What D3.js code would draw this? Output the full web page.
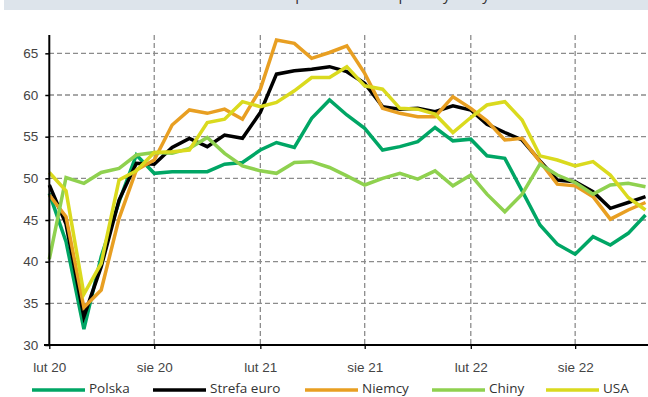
<!DOCTYPE html>
<html><head><meta charset="utf-8">
<script src="https://cdn.jsdelivr.net/npm/d3@7"></script>
<style>
body{margin:0;background:#fff;}
svg{display:block;font-family:"Open Sans","Noto Sans",sans-serif;}
</style></head>
<body><svg id="c" width="648" height="397"></svg>
<script>
const months = ["2020-02","2020-03","2020-04","2020-05","2020-06","2020-07","2020-08","2020-09","2020-10","2020-11","2020-12","2021-01","2021-02","2021-03","2021-04","2021-05","2021-06","2021-07","2021-08","2021-09","2021-10","2021-11","2021-12","2022-01","2022-02","2022-03","2022-04","2022-05","2022-06","2022-07","2022-08","2022-09","2022-10","2022-11","2022-12"];
const polska = [48.2,42.4,31.9,40.6,47.2,52.8,50.6,50.8,50.8,50.8,51.7,51.9,53.4,54.3,53.7,57.2,59.4,57.6,56.0,53.4,53.8,54.4,56.1,54.5,54.7,52.7,52.4,48.5,44.4,42.1,40.9,43.0,42.0,43.4,45.6];
const strefaEuro = [49.2,44.5,33.4,39.4,47.4,51.8,51.7,53.7,54.8,53.8,55.2,54.8,57.9,62.5,62.9,63.1,63.4,62.8,61.4,58.6,58.3,58.4,58.0,58.7,58.2,56.5,55.5,54.6,52.1,49.8,49.6,48.4,46.4,47.1,47.8];
const niemcy = [48.0,45.4,34.5,36.6,45.2,51.0,52.2,56.4,58.2,57.8,58.3,57.1,60.7,66.6,66.2,64.4,65.1,65.9,62.6,58.4,57.8,57.4,57.4,59.8,58.4,56.9,54.6,54.8,52.0,49.3,49.1,47.8,45.1,46.2,47.1];
const chiny = [40.3,50.1,49.4,50.7,51.2,52.8,53.1,53.0,53.6,54.9,53.0,51.5,50.9,50.6,51.9,52.0,51.3,50.3,49.2,50.0,50.6,49.9,50.9,49.1,50.4,48.1,46.0,48.1,51.7,50.4,49.5,48.1,49.2,49.4,49.0];
const usa = [50.7,48.5,36.1,39.8,49.8,50.9,53.1,53.2,53.4,56.7,57.1,59.2,58.6,59.1,60.5,62.1,62.1,63.4,61.1,60.7,58.4,58.3,57.7,55.5,57.3,58.8,59.2,57.0,52.7,52.2,51.5,52.0,50.4,47.7,46.2];
const seriesNames = ["Polska","Strefa euro","Niemcy","Chiny","USA"];
const seriesColors = ["#00a665","#000000","#e89f22","#8fd14f","#dada1e"];
const xTickMonths = ["2020-02","2020-08","2021-02","2021-08","2022-02","2022-08"];
const xTickLabels = ["lut 20","sie 20","lut 21","sie 21","lut 22","sie 22"];
const yTicks = [30,35,40,45,50,55,60,65];
const titleText = "Wskaźniki PMI w przetwórstwie przemysłowym";

const seriesData = [polska, strefaEuro, niemcy, chiny, usa];
const parse = d3.timeParse("%Y-%m");
const dates = months.map(parse);
const svg = d3.select("#c");

// title band (cut off at the top, as in the reference)
svg.append("clipPath").attr("id","tclip").append("rect").attr("x",0).attr("y",0).attr("width",648).attr("height",10);
svg.append("rect").attr("x",4).attr("y",0).attr("width",644).attr("height",10).attr("fill","#dde4eb");
svg.append("text").attr("x",340).attr("y",0).attr("text-anchor","middle")
  .attr("font-size",15).attr("fill","#333").attr("clip-path","url(#tclip)").text(titleText);

const x = d3.scaleTime().domain([parse("2020-02"), parse("2022-12")]).range([49.3, 645.5]);
const y = d3.scaleLinear().domain([30,67.2]).range([345, 35]);

// grid
const g = svg.append("g");
g.selectAll("line.hg").data(yTicks.filter(v=>v>30)).join("line")
  .attr("x1",49).attr("x2",648).attr("y1",d=>y(d)).attr("y2",d=>y(d))
  .attr("stroke","#8c8c8c").attr("stroke-width",1.3).attr("stroke-dasharray","5,3");
g.selectAll("line.vg").data(xTickMonths.slice(1).map(parse)).join("line")
  .attr("x1",d=>x(d)).attr("x2",d=>x(d)).attr("y1",35).attr("y2",345)
  .attr("stroke","#8c8c8c").attr("stroke-width",1.3).attr("stroke-dasharray","5,3");

// axes
const yAxis = d3.axisLeft(y).tickValues(yTicks).tickSize(4).tickPadding(7);
const ya = svg.append("g").attr("transform","translate(49.3,0)").call(yAxis);
ya.select(".domain").remove();
ya.selectAll(".tick line").attr("stroke","#000").attr("stroke-width",1.5);
ya.selectAll("text").attr("font-size",13.5).attr("fill","#444");

const xAxis = d3.axisBottom(x).tickValues(xTickMonths.map(parse)).tickSize(4).tickPadding(13)
  .tickFormat((d,i)=>xTickLabels[i]);
const xa = svg.append("g").attr("transform","translate(0,345)").call(xAxis);
xa.select(".domain").remove();
xa.selectAll(".tick line").attr("stroke","#000").attr("stroke-width",1.3);
xa.selectAll("text").attr("font-size",13.5).attr("fill","#444");

// lines
const line = d3.line().x((d,i)=>x(dates[i])).y(d=>y(d));
seriesData.forEach((s,k)=>{
  svg.append("path").datum(s).attr("d",line).attr("fill","none")
    .attr("stroke",seriesColors[k]).attr("stroke-width",3.5).attr("stroke-linejoin","miter");
});

svg.append("line").attr("x1",49.3).attr("x2",49.3).attr("y1",35).attr("y2",346).attr("stroke","#000").attr("stroke-width",2);
svg.append("line").attr("x1",44).attr("x2",648).attr("y1",345).attr("y2",345).attr("stroke","#000").attr("stroke-width",2);

// legend
const legX = [32,153,305,432,546];
const leg = svg.append("g");
seriesNames.forEach((n,k)=>{
  leg.append("line").attr("x1",legX[k]).attr("x2",legX[k]+53).attr("y1",390).attr("y2",390)
    .attr("stroke",seriesColors[k]).attr("stroke-width",3.5);
  leg.append("text").attr("x",legX[k]+57).attr("y",393)
    .attr("font-size",13.5).attr("fill","#333").text(n);
});
</script></body></html>
